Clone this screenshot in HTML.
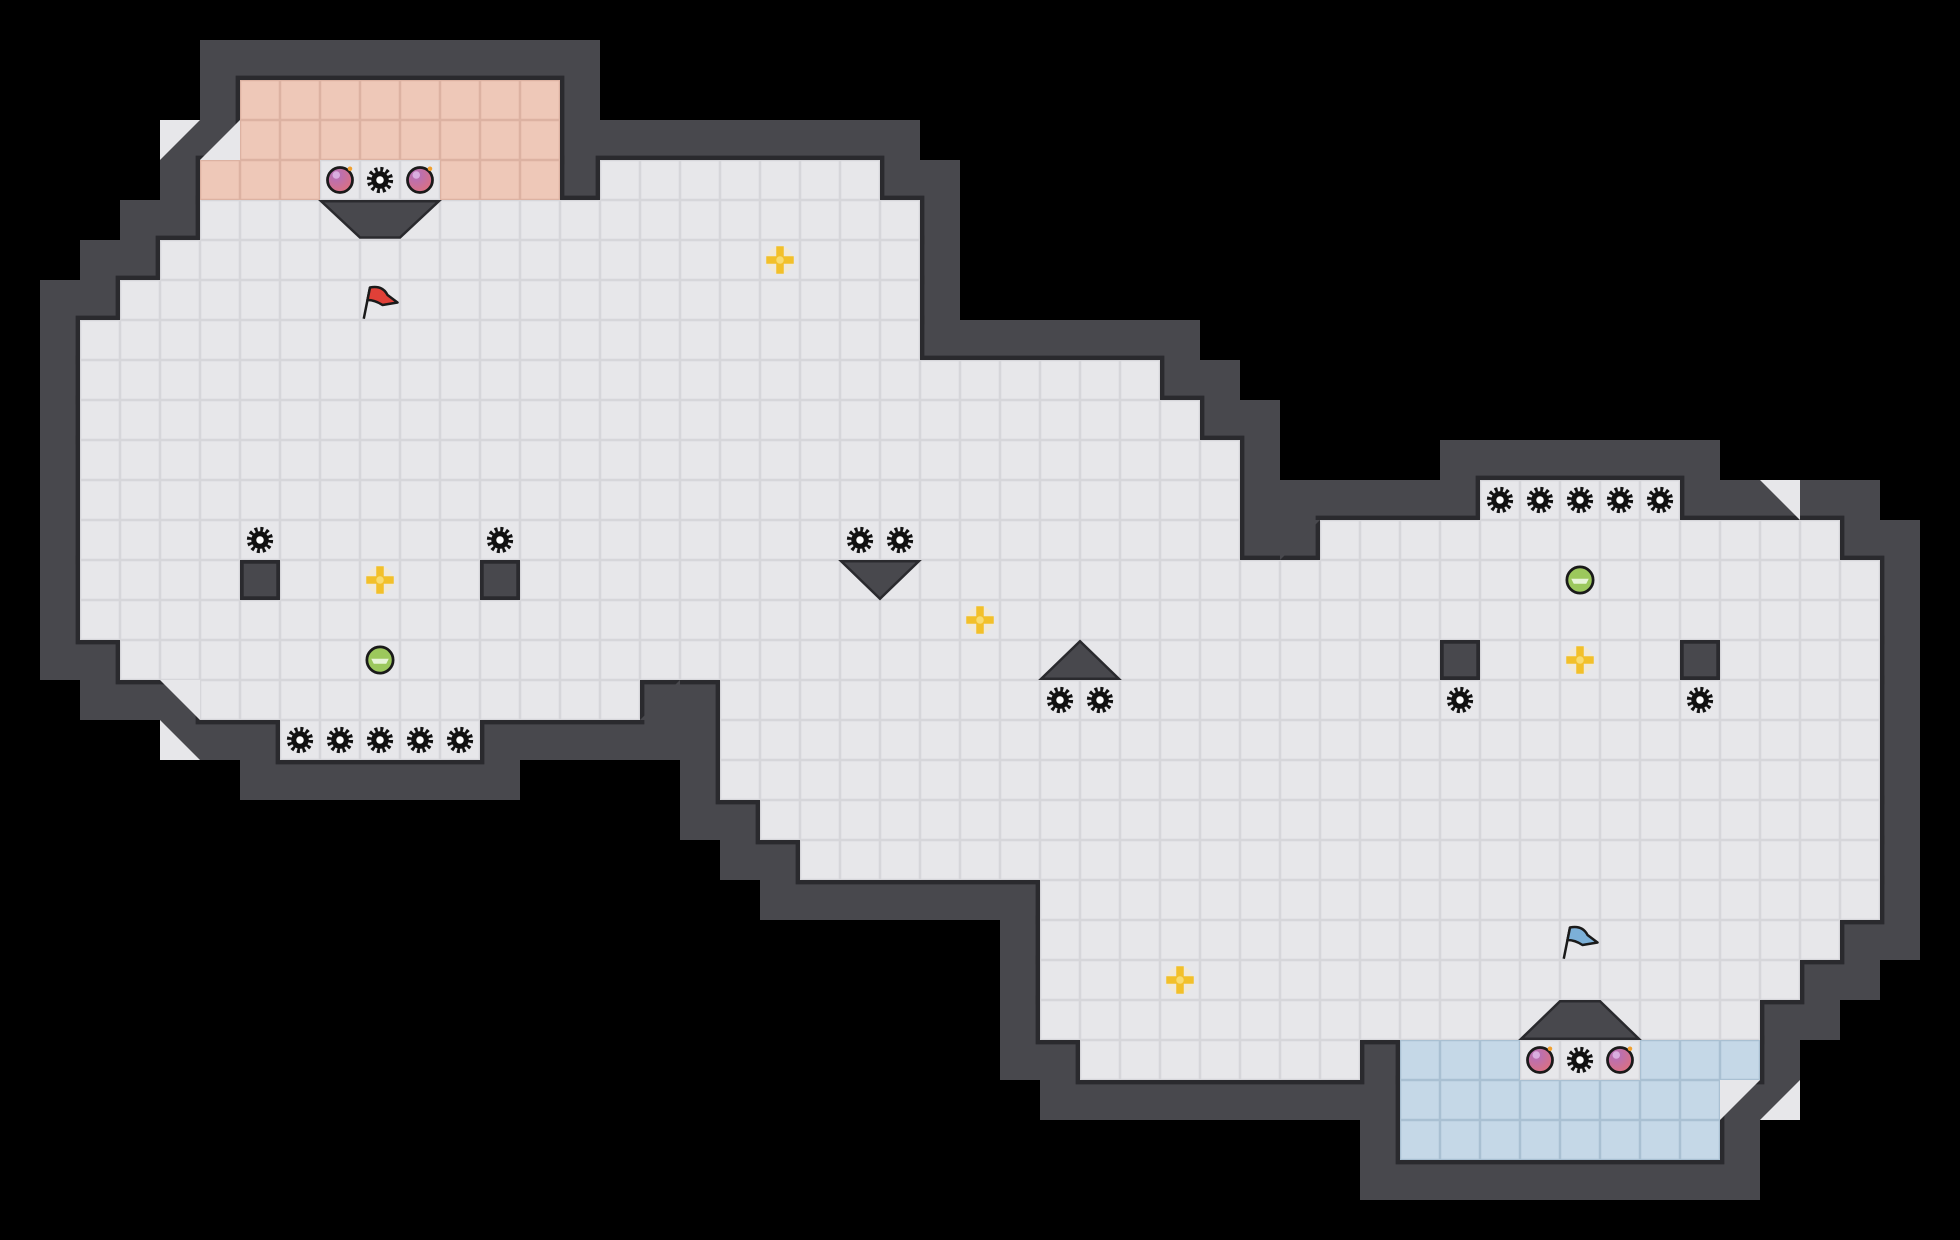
<!DOCTYPE html>
<html><head><style>html,body{margin:0;padding:0;background:#000;}svg{display:block}</style></head>
<body>
<svg width="1960" height="1240" viewBox="0 0 1568 992" xmlns="http://www.w3.org/2000/svg">
<defs>
<pattern id="pf" width="32" height="32" patternUnits="userSpaceOnUse"><rect width="32" height="32" fill="#d6d6da"/><rect x="1" y="1" width="30" height="30" fill="#e7e7ea"/></pattern>
<pattern id="po" width="32" height="32" patternUnits="userSpaceOnUse"><rect width="32" height="32" fill="#dcb2a2"/><rect x="1" y="1" width="30" height="30" fill="#eec8b8"/></pattern>
<pattern id="pb" width="32" height="32" patternUnits="userSpaceOnUse"><rect width="32" height="32" fill="#a9c0d2"/><rect x="1" y="1" width="30" height="30" fill="#c5d8e7"/></pattern>
<g id="fl">
<rect x="192" y="64" width="256" height="64"/>
<rect x="160" y="128" width="288" height="32"/>
<rect x="480" y="128" width="224" height="32"/>
<rect x="160" y="160" width="576" height="32"/>
<rect x="128" y="192" width="608" height="32"/>
<rect x="96" y="224" width="640" height="32"/>
<rect x="64" y="256" width="672" height="32"/>
<rect x="64" y="288" width="864" height="32"/>
<rect x="64" y="320" width="896" height="32"/>
<rect x="64" y="352" width="928" height="96"/>
<rect x="1184" y="384" width="160" height="32"/>
<rect x="1056" y="416" width="416" height="32"/>
<rect x="64" y="448" width="1440" height="64"/>
<rect x="96" y="512" width="1408" height="32"/>
<rect x="160" y="544" width="352" height="32"/>
<rect x="576" y="544" width="928" height="96"/>
<rect x="224" y="576" width="160" height="32"/>
<rect x="608" y="640" width="896" height="32"/>
<rect x="640" y="672" width="864" height="32"/>
<rect x="832" y="704" width="672" height="32"/>
<rect x="832" y="736" width="640" height="32"/>
<rect x="832" y="768" width="608" height="32"/>
<rect x="832" y="800" width="576" height="32"/>
<rect x="864" y="832" width="224" height="32"/>
<rect x="1120" y="832" width="288" height="32"/>
<rect x="1120" y="864" width="256" height="64"/>
</g>
<g id="gear"><circle r="8.5" fill="none" stroke="#111" stroke-width="4" stroke-dasharray="2.3 2.15"/><circle r="7" fill="#111"/><circle r="3" fill="#fff"/></g>
<radialGradient id="gb" cx="0.35" cy="0.3" r="0.8"><stop offset="0" stop-color="#b070c0"/><stop offset="1" stop-color="#e0707a"/></radialGradient>
<g id="bomb"><circle r="10" fill="url(#gb)" stroke="#1a1a1a" stroke-width="2.2"/><circle cx="-3" cy="-4" r="3" fill="#e8c8f0" opacity="0.7"/><circle cx="8" cy="-9" r="1.8" fill="#f0a030"/></g>
<g id="green"><circle r="10.5" fill="#9cc85c" stroke="#1a1a1a" stroke-width="2.2"/><path d="M-7 -1 L7 -1 L5 3 L-5 3Z" fill="#e8f4d8"/></g>
<g id="star"><circle r="11" fill="#f4ead0" opacity="0.8"/><path d="M-3 -11 H3 V-3 H11 V3 H3 V11 H-3 V3 H-11 V-3 H-3Z" fill="#f2c02a"/><circle r="3" fill="#f8dc70"/></g>
</defs>
<rect width="1568" height="992" fill="#000"/>
<use href="#fl" fill="#48484d" stroke="#48484d" stroke-width="64" stroke-linejoin="miter"/>
<use href="#fl" fill="#2a2a2e" stroke="#2a2a2e" stroke-width="7" stroke-linejoin="miter"/>
<use href="#fl" fill="url(#pf)"/>
<!-- orange -->
<rect x="192" y="64" width="256" height="64" fill="url(#po)"/>
<rect x="160" y="128" width="96" height="32" fill="url(#po)"/>
<rect x="352" y="128" width="96" height="32" fill="url(#po)"/>
<!-- blue -->
<rect x="1120" y="832" width="96" height="32" fill="url(#pb)"/>
<rect x="1312" y="832" width="96" height="32" fill="url(#pb)"/>
<rect x="1120" y="864" width="256" height="64" fill="url(#pb)"/>
<!-- diagonal corners -->
<g fill="#48484d">
<path d="M1024 416 L1056 416 L1024 448Z"/>
<path d="M512 576 L544 544 L544 576Z"/>
</g>
<g fill="#e7e7ea">
<path d="M192 96 L192 128 L160 128Z"/>
<path d="M128 96 L160 96 L128 128Z"/>
<path d="M128 544 L160 544 L160 576Z"/>
<path d="M128 576 L128 608 L160 608Z"/>
<path d="M1408 384 L1440 384 L1440 416Z"/>
<path d="M1376 864 L1408 864 L1376 896Z"/>
<path d="M1440 864 L1440 896 L1408 896Z"/>
</g>
<!-- blocks -->
<g fill="#48484d" stroke="#2a2a2e" stroke-width="3">
<rect x="193.5" y="449.5" width="29" height="29"/>
<rect x="385.5" y="449.5" width="29" height="29"/>
<rect x="1153.5" y="513.5" width="29" height="29"/>
<rect x="1345.5" y="513.5" width="29" height="29"/>
</g>
<!-- triangles -->
<g fill="#48484d" stroke="#2a2a2e" stroke-width="2">
<path d="M257 161 L351 161 L320 190 L288 190Z"/>
<path d="M673 449 L735 449 L704 479Z"/>
<path d="M833 543 L895 543 L864 513Z"/>
<path d="M1217 831 L1311 831 L1280 801 L1248 801Z"/>
</g>
<!-- gears -->
<use href="#gear" x="304" y="144"/>
<use href="#gear" x="1200" y="400"/><use href="#gear" x="1232" y="400"/><use href="#gear" x="1264" y="400"/><use href="#gear" x="1296" y="400"/><use href="#gear" x="1328" y="400"/>
<use href="#gear" x="208" y="432"/><use href="#gear" x="400" y="432"/><use href="#gear" x="688" y="432"/><use href="#gear" x="720" y="432"/>
<use href="#gear" x="848" y="560"/><use href="#gear" x="880" y="560"/><use href="#gear" x="1168" y="560"/><use href="#gear" x="1360" y="560"/>
<use href="#gear" x="240" y="592"/><use href="#gear" x="272" y="592"/><use href="#gear" x="304" y="592"/><use href="#gear" x="336" y="592"/><use href="#gear" x="368" y="592"/>
<use href="#gear" x="1264" y="848"/>
<!-- bombs -->
<use href="#bomb" x="272" y="144"/><use href="#bomb" x="336" y="144"/>
<use href="#bomb" x="1232" y="848"/><use href="#bomb" x="1296" y="848"/>
<!-- green -->
<use href="#green" x="304" y="528"/><use href="#green" x="1264" y="464"/>
<!-- stars -->
<use href="#star" x="624" y="208"/><use href="#star" x="304" y="464"/><use href="#star" x="784" y="496"/><use href="#star" x="1264" y="528"/><use href="#star" x="944" y="784"/>
<!-- flags -->
<g stroke="#1a1a1a" stroke-width="2" stroke-linejoin="round">
<line x1="291" y1="255" x2="296" y2="230"/>
<path d="M296 230 Q306 228 310 236 L318 242 L306 244 Q300 240 294 240Z" fill="#e04038"/>
<line x1="1251" y1="767" x2="1256" y2="742"/>
<path d="M1256 742 Q1266 740 1270 748 L1278 754 L1266 756 Q1260 752 1254 752Z" fill="#7cb0d8"/>
</g>
</svg>
</body></html>
